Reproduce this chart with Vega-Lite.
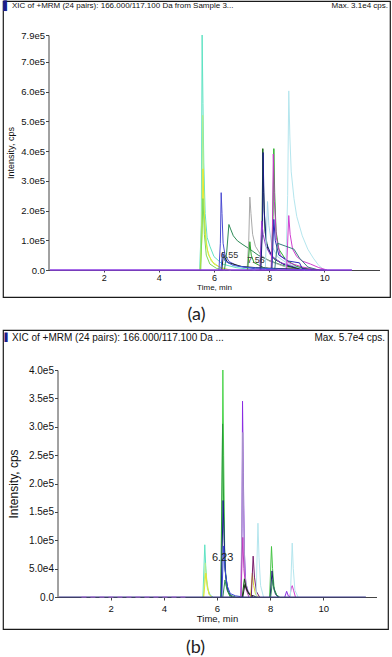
{
  "$schema": "https://vega.github.io/schema/vega-lite/v6.json",
  "padding": {"left": 2, "top": 0, "right": 2, "bottom": 0},
  "spacing": 4,
  "config": {
    "font": "Liberation Sans",
    "axis": {"grid": false, "domainColor": "#444", "tickColor": "#444", "labelColor": "#111", "titleColor": "#111", "titleFontWeight": "normal", "labelFont": "Liberation Sans", "titleFont": "Liberation Sans", "labelOverlap": false, "labelBound": false},
    "title": {"font": "Lato", "fontSize": 18, "fontWeight": "normal", "color": "#222"}
  },
  "resolve": {"scale": {"x": "independent", "y": "independent", "color": "independent"}},
  "vconcat": [
    {
      "width": 387,
      "height": 296,
      "view": {"stroke": "#1a1a1a", "strokeWidth": 1.2},
      "title": {"text": "(a)", "orient": "bottom", "anchor": "middle", "baseline": "top", "offset": 9},
      "encoding": {
        "x": {"field": "t", "type": "quantitative", "scale": {"domain": [0, 12], "range": [45.5, 376.5], "nice": false, "zero": false},
          "axis": {"values": [2, 4, 6, 8, 10], "offset": -27, "tickSize": 2, "labelPadding": 1, "labelFontSize": 9, "title": "Time, min", "titleFontSize": 8, "titlePadding": 1}},
        "y": {"field": "v", "type": "quantitative", "scale": {"domain": [0, 790000], "range": [269, 34], "nice": false},
          "axis": {"values": [0, 100000, 200000, 300000, 400000, 500000, 600000, 700000, 790000], "offset": -45.5, "tickSize": 3, "labelPadding": 1, "labelFontSize": 9.5, "labelExpr": "datum.value == 0 ? '0.0' : replace(format(datum.value, '.1e'), 'e+', 'e')", "title": "Intensity, cps", "titleFontSize": 9, "titlePadding": 5}}
      },
      "layer": [
        {
          "data": {"values": [
            {"s":"a1","t":5.48,"v":0},{"s":"a1","t":5.54,"v":150000},{"s":"a1","t":5.57,"v":790000},{"s":"a1","t":5.6,"v":560000},{"s":"a1","t":5.63,"v":360000},{"s":"a1","t":5.68,"v":190000},{"s":"a1","t":5.75,"v":110000},{"s":"a1","t":5.85,"v":80000},{"s":"a1","t":6.0,"v":45000},{"s":"a1","t":6.3,"v":20000},{"s":"a1","t":6.8,"v":8000},{"s":"a1","t":7.5,"v":0},
            {"s":"a2","t":5.5,"v":0},{"s":"a2","t":5.56,"v":200000},{"s":"a2","t":5.59,"v":520000},{"s":"a2","t":5.62,"v":320000},{"s":"a2","t":5.66,"v":170000},{"s":"a2","t":5.75,"v":70000},{"s":"a2","t":5.9,"v":30000},{"s":"a2","t":6.2,"v":10000},{"s":"a2","t":6.6,"v":0},
            {"s":"a3","t":5.5,"v":0},{"s":"a3","t":5.57,"v":120000},{"s":"a3","t":5.6,"v":340000},{"s":"a3","t":5.64,"v":200000},{"s":"a3","t":5.7,"v":100000},{"s":"a3","t":5.8,"v":50000},{"s":"a3","t":6.0,"v":20000},{"s":"a3","t":6.3,"v":5000},{"s":"a3","t":6.6,"v":0},
            {"s":"a4","t":5.52,"v":0},{"s":"a4","t":5.6,"v":240000},{"s":"a4","t":5.65,"v":120000},{"s":"a4","t":5.72,"v":50000},{"s":"a4","t":5.85,"v":20000},{"s":"a4","t":6.1,"v":5000},{"s":"a4","t":6.4,"v":0},
            {"s":"a5","t":6.18,"v":0},{"s":"a5","t":6.23,"v":90000},{"s":"a5","t":6.26,"v":260000},{"s":"a5","t":6.29,"v":190000},{"s":"a5","t":6.33,"v":90000},{"s":"a5","t":6.4,"v":50000},{"s":"a5","t":6.55,"v":28000},{"s":"a5","t":6.9,"v":12000},{"s":"a5","t":7.5,"v":4000},{"s":"a5","t":8.3,"v":0},
            {"s":"a6","t":6.38,"v":0},{"s":"a6","t":6.46,"v":60000},{"s":"a6","t":6.54,"v":153000},{"s":"a6","t":6.6,"v":138000},{"s":"a6","t":6.7,"v":115000},{"s":"a6","t":6.85,"v":98000},{"s":"a6","t":7.05,"v":85000},{"s":"a6","t":7.3,"v":70000},{"s":"a6","t":7.6,"v":50000},{"s":"a6","t":8.0,"v":32000},{"s":"a6","t":8.5,"v":15000},{"s":"a6","t":9.2,"v":4000},{"s":"a6","t":9.7,"v":0},
            {"s":"a7","t":7.2,"v":0},{"s":"a7","t":7.26,"v":100000},{"s":"a7","t":7.3,"v":245000},{"s":"a7","t":7.34,"v":190000},{"s":"a7","t":7.4,"v":120000},{"s":"a7","t":7.5,"v":80000},{"s":"a7","t":7.7,"v":50000},{"s":"a7","t":8.0,"v":30000},{"s":"a7","t":8.6,"v":10000},{"s":"a7","t":9.3,"v":0},
            {"s":"a8","t":7.22,"v":0},{"s":"a8","t":7.3,"v":95000},{"s":"a8","t":7.35,"v":50000},{"s":"a8","t":7.45,"v":25000},{"s":"a8","t":7.8,"v":8000},{"s":"a8","t":8.3,"v":0},
            {"s":"a9","t":7.68,"v":0},{"s":"a9","t":7.74,"v":120000},{"s":"a9","t":7.77,"v":408000},{"s":"a9","t":7.8,"v":260000},{"s":"a9","t":7.85,"v":130000},{"s":"a9","t":7.95,"v":70000},{"s":"a9","t":8.2,"v":35000},{"s":"a9","t":8.7,"v":12000},{"s":"a9","t":9.3,"v":0},
            {"s":"a10","t":7.7,"v":0},{"s":"a10","t":7.76,"v":160000},{"s":"a10","t":7.78,"v":395000},{"s":"a10","t":7.82,"v":200000},{"s":"a10","t":7.9,"v":90000},{"s":"a10","t":8.1,"v":45000},{"s":"a10","t":8.5,"v":20000},{"s":"a10","t":9.0,"v":8000},{"s":"a10","t":9.6,"v":0},
            {"s":"a11","t":7.66,"v":0},{"s":"a11","t":7.73,"v":165000},{"s":"a11","t":7.78,"v":120000},{"s":"a11","t":7.88,"v":80000},{"s":"a11","t":8.05,"v":50000},{"s":"a11","t":8.4,"v":25000},{"s":"a11","t":9.0,"v":10000},{"s":"a11","t":9.5,"v":0},
            {"s":"a12","t":7.86,"v":0},{"s":"a12","t":7.94,"v":230000},{"s":"a12","t":7.99,"v":150000},{"s":"a12","t":8.1,"v":80000},{"s":"a12","t":8.3,"v":45000},{"s":"a12","t":8.7,"v":20000},{"s":"a12","t":9.3,"v":0},
            {"s":"a13","t":8.08,"v":0},{"s":"a13","t":8.14,"v":180000},{"s":"a13","t":8.17,"v":408000},{"s":"a13","t":8.2,"v":260000},{"s":"a13","t":8.25,"v":130000},{"s":"a13","t":8.35,"v":70000},{"s":"a13","t":8.6,"v":35000},{"s":"a13","t":9.0,"v":12000},{"s":"a13","t":9.6,"v":0},
            {"s":"a14","t":8.07,"v":0},{"s":"a14","t":8.12,"v":150000},{"s":"a14","t":8.15,"v":390000},{"s":"a14","t":8.19,"v":230000},{"s":"a14","t":8.26,"v":110000},{"s":"a14","t":8.4,"v":50000},{"s":"a14","t":8.7,"v":25000},{"s":"a14","t":9.2,"v":10000},{"s":"a14","t":9.8,"v":0},
            {"s":"a15","t":8.1,"v":0},{"s":"a15","t":8.17,"v":170000},{"s":"a15","t":8.22,"v":100000},{"s":"a15","t":8.35,"v":50000},{"s":"a15","t":8.7,"v":30000},{"s":"a15","t":9.1,"v":24000},{"s":"a15","t":9.2,"v":5000},{"s":"a15","t":9.5,"v":0},
            {"s":"a16","t":8.6,"v":0},{"s":"a16","t":8.67,"v":250000},{"s":"a16","t":8.71,"v":602000},{"s":"a16","t":8.75,"v":450000},{"s":"a16","t":8.8,"v":330000},{"s":"a16","t":8.9,"v":240000},{"s":"a16","t":9.0,"v":180000},{"s":"a16","t":9.2,"v":115000},{"s":"a16","t":9.4,"v":70000},{"s":"a16","t":9.6,"v":40000},{"s":"a16","t":9.8,"v":15000},{"s":"a16","t":10.0,"v":0},
            {"s":"a17","t":8.63,"v":0},{"s":"a17","t":8.71,"v":183000},{"s":"a17","t":8.76,"v":120000},{"s":"a17","t":8.85,"v":70000},{"s":"a17","t":9.0,"v":45000},{"s":"a17","t":9.2,"v":30000},{"s":"a17","t":9.5,"v":20000},{"s":"a17","t":9.8,"v":8000},{"s":"a17","t":10.1,"v":0},
            {"s":"a18","t":8.2,"v":0},{"s":"a18","t":8.3,"v":90000},{"s":"a18","t":8.6,"v":80000},{"s":"a18","t":8.9,"v":70000},{"s":"a18","t":9.1,"v":40000},{"s":"a18","t":9.4,"v":10000},{"s":"a18","t":9.8,"v":0},
            {"s":"a19","t":6.28,"v":0},{"s":"a19","t":6.34,"v":50000},{"s":"a19","t":6.5,"v":25000},{"s":"a19","t":7.0,"v":12000},{"s":"a19","t":7.5,"v":8000},{"s":"a19","t":8.0,"v":6000},{"s":"a19","t":9.0,"v":3000},{"s":"a19","t":10.0,"v":0},
            {"s":"a20","t":6.25,"v":0},{"s":"a20","t":6.31,"v":60000},{"s":"a20","t":6.4,"v":30000},{"s":"a20","t":6.7,"v":15000},{"s":"a20","t":7.3,"v":8000},{"s":"a20","t":8.2,"v":4000},{"s":"a20","t":9.5,"v":0}
          ]},
          "mark": {"type": "line", "strokeWidth": 1},
          "encoding": {
            "color": {"field": "s", "type": "nominal", "legend": null,
              "scale": {"domain": ["a1","a2","a3","a4","a5","a6","a7","a8","a9","a10","a11","a12","a13","a14","a15","a16","a17","a18","a19","a20"],
                "range": ["#5fe3c3","#b0f090","#e6e62e","#7ada5a","#4b4bd2","#2e8b57","#a9a9a9","#2aa02a","#0a5a0a","#1c1c8a","#9a3fd0","#a9d6e8","#28b028","#c03cc0","#2a2ab8","#b5e6ee","#d040d0","#3a7f7f","#202020","#3a5ae0"]}}
          }
        },
        {
          "data": {"values": [{"t": 0.05, "v": 0}, {"t": 11.0, "v": 0}]},
          "mark": {"type": "line", "color": "#8a3be2", "strokeWidth": 1.6},
          "encoding": {}
        },
        {
          "data": {"values": [{"label": "6.55", "t": 6.56, "v": 49000}, {"label": "7.56", "t": 7.52, "v": 32000}]},
          "mark": {"type": "text", "fontSize": 9, "color": "#333"},
          "encoding": {"text": {"field": "label"}}
        },
        {
          "data": {"values": [{"h": "▌"}]},
          "mark": {"type": "text", "font": "DejaVu Sans", "fontSize": 9, "color": "#1c1c8a", "align": "left", "baseline": "middle", "dx": 0.5, "dy": 5},
          "encoding": {"x": {"value": 0}, "y": {"value": 0}, "text": {"field": "h"}}
        },
        {
          "data": {"values": [{"h": "XIC of +MRM (24 pairs): 166.000/117.100 Da  from Sample 3..."}]},
          "mark": {"type": "text", "fontSize": 8, "color": "#111", "align": "left", "baseline": "middle", "dx": 9, "dy": 5},
          "encoding": {"x": {"value": 0}, "y": {"value": 0}, "text": {"field": "h"}}
        },
        {
          "data": {"values": [{"h": "Max. 3.1e4 cps."}]},
          "mark": {"type": "text", "fontSize": 8, "color": "#111", "align": "right", "baseline": "middle", "dx": -2, "dy": 5},
          "encoding": {"x": {"value": "width"}, "y": {"value": 0}, "text": {"field": "h"}}
        }
      ]
    },
    {
      "width": 385,
      "height": 299,
      "view": {"stroke": "#1a1a1a", "strokeWidth": 1.2},
      "title": {"text": "(b)", "orient": "bottom", "anchor": "middle", "baseline": "top", "offset": 10},
      "encoding": {
        "x": {"field": "t", "type": "quantitative", "scale": {"domain": [0, 12], "range": [54.5, 373.5], "nice": false, "zero": false},
          "axis": {"values": [2, 4, 6, 8, 10], "offset": -32, "tickSize": 3, "labelPadding": 3, "labelFontSize": 9.5, "title": "Time, min", "titleFontSize": 9.5, "titlePadding": 1}},
        "y": {"field": "v", "type": "quantitative", "scale": {"domain": [0, 400000], "range": [267, 40], "nice": false},
          "axis": {"values": [0, 50000, 100000, 150000, 200000, 250000, 300000, 350000, 400000], "offset": -54.5, "tickSize": 3, "labelPadding": 1, "labelFontSize": 10, "labelExpr": "datum.value == 0 ? '0.0' : replace(format(datum.value, '.1e'), 'e+', 'e')", "title": "Intensity, cps", "titleFontSize": 12, "titlePadding": 8}}
      },
      "layer": [
        {
          "data": {"values": [
            {"s":"b1","t":5.47,"v":0},{"s":"b1","t":5.54,"v":92000},{"s":"b1","t":5.58,"v":50000},{"s":"b1","t":5.64,"v":15000},{"s":"b1","t":5.75,"v":3000},{"s":"b1","t":5.85,"v":0},
            {"s":"b2","t":5.49,"v":0},{"s":"b2","t":5.56,"v":60000},{"s":"b2","t":5.61,"v":30000},{"s":"b2","t":5.7,"v":5000},{"s":"b2","t":5.8,"v":0},
            {"s":"b3","t":5.5,"v":0},{"s":"b3","t":5.58,"v":42000},{"s":"b3","t":5.63,"v":20000},{"s":"b3","t":5.7,"v":5000},{"s":"b3","t":5.8,"v":0},
            {"s":"b4","t":6.15,"v":0},{"s":"b4","t":6.19,"v":150000},{"s":"b4","t":6.22,"v":400000},{"s":"b4","t":6.25,"v":250000},{"s":"b4","t":6.29,"v":80000},{"s":"b4","t":6.35,"v":20000},{"s":"b4","t":6.45,"v":5000},{"s":"b4","t":6.6,"v":0},
            {"s":"b5","t":6.14,"v":0},{"s":"b5","t":6.21,"v":305000},{"s":"b5","t":6.25,"v":160000},{"s":"b5","t":6.3,"v":50000},{"s":"b5","t":6.4,"v":10000},{"s":"b5","t":6.5,"v":0},
            {"s":"b6","t":6.16,"v":0},{"s":"b6","t":6.23,"v":170000},{"s":"b6","t":6.27,"v":100000},{"s":"b6","t":6.32,"v":40000},{"s":"b6","t":6.42,"v":10000},{"s":"b6","t":6.55,"v":0},
            {"s":"b7","t":6.18,"v":0},{"s":"b7","t":6.25,"v":90000},{"s":"b7","t":6.3,"v":50000},{"s":"b7","t":6.38,"v":20000},{"s":"b7","t":6.5,"v":6000},{"s":"b7","t":6.7,"v":2000},{"s":"b7","t":7.0,"v":0},
            {"s":"b8","t":6.22,"v":0},{"s":"b8","t":6.3,"v":30000},{"s":"b8","t":6.38,"v":12000},{"s":"b8","t":6.5,"v":3000},{"s":"b8","t":6.7,"v":0},
            {"s":"b9","t":6.9,"v":0},{"s":"b9","t":6.94,"v":120000},{"s":"b9","t":6.96,"v":345000},{"s":"b9","t":6.99,"v":220000},{"s":"b9","t":7.03,"v":80000},{"s":"b9","t":7.08,"v":25000},{"s":"b9","t":7.2,"v":5000},{"s":"b9","t":7.35,"v":0},
            {"s":"b10","t":6.9,"v":0},{"s":"b10","t":6.97,"v":290000},{"s":"b10","t":7.0,"v":150000},{"s":"b10","t":7.05,"v":40000},{"s":"b10","t":7.15,"v":8000},{"s":"b10","t":7.3,"v":0},
            {"s":"b11","t":6.9,"v":0},{"s":"b11","t":6.97,"v":105000},{"s":"b11","t":7.01,"v":50000},{"s":"b11","t":7.08,"v":15000},{"s":"b11","t":7.2,"v":0},
            {"s":"b12","t":6.95,"v":0},{"s":"b12","t":7.03,"v":32000},{"s":"b12","t":7.1,"v":15000},{"s":"b12","t":7.2,"v":5000},{"s":"b12","t":7.35,"v":0},
            {"s":"b13","t":6.97,"v":0},{"s":"b13","t":7.05,"v":22000},{"s":"b13","t":7.15,"v":10000},{"s":"b13","t":7.3,"v":3000},{"s":"b13","t":7.5,"v":0},
            {"s":"b14","t":7.26,"v":0},{"s":"b14","t":7.33,"v":42000},{"s":"b14","t":7.38,"v":20000},{"s":"b14","t":7.45,"v":5000},{"s":"b14","t":7.55,"v":0},
            {"s":"b15","t":7.29,"v":0},{"s":"b15","t":7.36,"v":72000},{"s":"b15","t":7.41,"v":35000},{"s":"b15","t":7.48,"v":10000},{"s":"b15","t":7.6,"v":0},
            {"s":"b16","t":7.47,"v":0},{"s":"b16","t":7.54,"v":130000},{"s":"b16","t":7.58,"v":70000},{"s":"b16","t":7.64,"v":20000},{"s":"b16","t":7.75,"v":0},
            {"s":"b17","t":7.98,"v":0},{"s":"b17","t":8.05,"v":89000},{"s":"b17","t":8.09,"v":50000},{"s":"b17","t":8.15,"v":15000},{"s":"b17","t":8.25,"v":3000},{"s":"b17","t":8.35,"v":0},
            {"s":"b18","t":8.0,"v":0},{"s":"b18","t":8.07,"v":46000},{"s":"b18","t":8.12,"v":20000},{"s":"b18","t":8.2,"v":5000},{"s":"b18","t":8.3,"v":0},
            {"s":"b19","t":8.02,"v":0},{"s":"b19","t":8.09,"v":30000},{"s":"b19","t":8.15,"v":12000},{"s":"b19","t":8.25,"v":3000},{"s":"b19","t":8.35,"v":0},
            {"s":"b20","t":8.55,"v":0},{"s":"b20","t":8.62,"v":10000},{"s":"b20","t":8.68,"v":2000},{"s":"b20","t":8.75,"v":0},
            {"s":"b21","t":8.74,"v":0},{"s":"b21","t":8.8,"v":18000},{"s":"b21","t":8.83,"v":20000},{"s":"b21","t":8.88,"v":12000},{"s":"b21","t":8.95,"v":0},
            {"s":"b22","t":8.76,"v":0},{"s":"b22","t":8.83,"v":95000},{"s":"b22","t":8.87,"v":50000},{"s":"b22","t":8.93,"v":12000},{"s":"b22","t":9.05,"v":0}
          ]},
          "mark": {"type": "line", "strokeWidth": 1},
          "encoding": {
            "color": {"field": "s", "type": "nominal", "legend": null,
              "scale": {"domain": ["b1","b2","b3","b4","b5","b6","b7","b8","b9","b10","b11","b12","b13","b14","b15","b16","b17","b18","b19","b20","b21","b22"],
                "range": ["#5fe3c3","#b0f090","#e6e62e","#4cd44c","#2a9a3a","#1c1c8a","#3a48d8","#2e8b57","#8a2be2","#a898c8","#c03cc0","#0a5a0a","#202020","#d8d830","#7a1e6e","#b5e6ee","#44c444","#202070","#2e8b57","#8a2be2","#d040d0","#b5e6ee"]}}
          }
        },
        {
          "data": {"values": [{"t": 0.05, "v": 0}, {"t": 11.6, "v": 0}]},
          "mark": {"type": "line", "color": "#3a3a8a", "strokeWidth": 1},
          "encoding": {}
        },
        {
          "data": {"values": [{"t": 0.9, "v": 0}, {"t": 4.9, "v": 0}]},
          "mark": {"type": "line", "color": "#b070e0", "strokeWidth": 1.2, "strokeDash": [5, 4]},
          "encoding": {}
        },
        {
          "data": {"values": [{"label": "6.23", "t": 6.21, "v": 69000}]},
          "mark": {"type": "text", "fontSize": 11, "color": "#222"},
          "encoding": {"text": {"field": "label"}}
        },
        {
          "data": {"values": [{"h": "▌"}]},
          "mark": {"type": "text", "font": "DejaVu Sans", "fontSize": 8, "color": "#1c1c8a", "align": "left", "baseline": "middle", "dx": 1.5, "dy": 8},
          "encoding": {"x": {"value": 0}, "y": {"value": 0}, "text": {"field": "h"}}
        },
        {
          "data": {"values": [{"h": "XIC of +MRM (24 pairs): 166.000/117.100 Da  ..."}]},
          "mark": {"type": "text", "fontSize": 10, "color": "#111", "align": "left", "baseline": "middle", "dx": 9, "dy": 8},
          "encoding": {"x": {"value": 0}, "y": {"value": 0}, "text": {"field": "h"}}
        },
        {
          "data": {"values": [{"h": "Max. 5.7e4 cps."}]},
          "mark": {"type": "text", "fontSize": 10, "color": "#111", "align": "right", "baseline": "middle", "dx": -3, "dy": 8},
          "encoding": {"x": {"value": "width"}, "y": {"value": 0}, "text": {"field": "h"}}
        }
      ]
    }
  ]
}
